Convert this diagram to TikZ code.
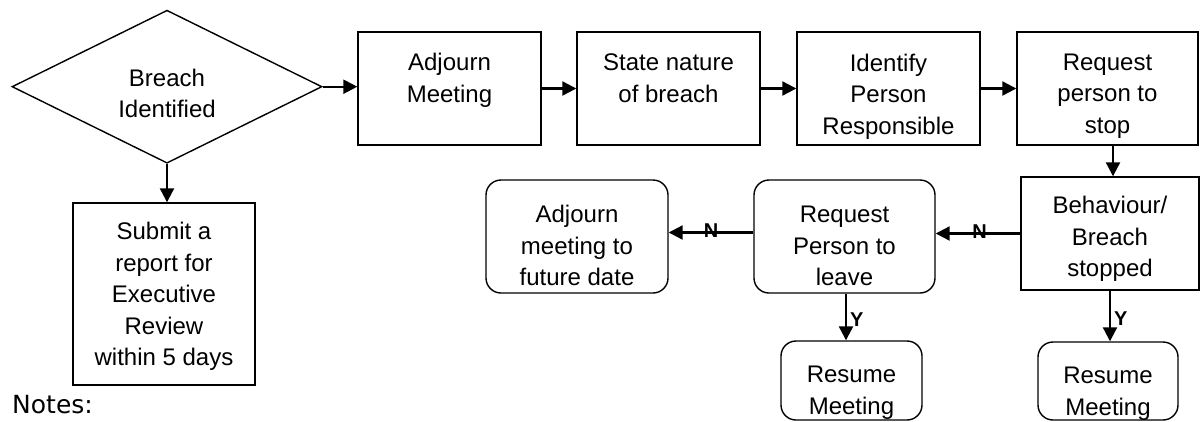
\documentclass[tikz,border=0pt]{standalone}
\usepackage{fontspec}
\setmainfont{Liberation Sans}
\newfontfamily\notesfont{DejaVu Sans}
\usetikzlibrary{arrows.meta,shapes.geometric,calc}
\begin{document}
\begin{tikzpicture}[x=1pt,y=-1pt,
  boxa/.style={draw, line width=1.4pt, inner sep=0pt},
  rboxa/.style={boxa, rounded corners=15pt},
  txt/.style={font=\fontsize{24}{31.5}\selectfont, align=center, anchor=north, inner sep=0pt},
  arr/.style={line width=2.2pt, -{Triangle[length=14pt,width=14pt]}},
  lab/.style={font=\fontsize{20}{24}\bfseries\selectfont, inner sep=0pt}
]
\useasboundingbox (0,0) rectangle (1200,421);
\fill[white] (0,0) rectangle (1200,421);

% top row
\node[draw, diamond, line width=1.4pt, inner sep=0pt, minimum width=310pt, minimum height=153pt] (dia) at (167,86.7) {};
\node[txt] (diat) at ($(dia.center)+(0,-22.7)$) {\strut Breach\\Identified};

\node[boxa, minimum width=183pt, minimum height=113pt] (adj) at (449.5,88.5) {};
\node[txt] (adjt) at ($(adj.north)+(0,17)$) {\strut Adjourn\\Meeting};

\node[boxa, minimum width=183pt, minimum height=113pt] (state) at (668.5,88.5) {};
\node[txt] (statet) at ($(state.north)+(0,17)$) {\strut State nature\\of breach};

\node[boxa, minimum width=183pt, minimum height=113pt] (ident) at (888.5,88.5) {};
\node[txt] (identt) at ($(ident.north)+(0,17.5)$) {\strut Identify\\Person\\Responsible};

\node[boxa, minimum width=181pt, minimum height=113pt] (reqstop) at (1107.5,88.5) {};
\node[txt] (reqstopt) at ($(reqstop.north)+(0,16.5)$) {\strut Request\\person to\\stop};

% second row
\node[boxa, minimum width=178pt, minimum height=113pt] (behav) at (1110,233.5) {};
\node[txt] (behavt) at ($(behav.north)+(0,15)$) {\strut Behaviour/\\Breach\\stopped};

\node[rboxa, minimum width=181pt, minimum height=113pt] (reqleave) at (844.5,236.5) {};
\node[txt] (reqleavet) at ($(reqleave.north)+(0,21)$) {\strut Request\\Person to\\leave};

\node[rboxa, minimum width=182pt, minimum height=113pt] (adjfut) at (577,236.5) {};
\node[txt] (adjfutt) at ($(adjfut.north)+(0,21)$) {\strut Adjourn\\meeting to\\future date};

% bottom row
\node[rboxa, minimum width=141pt, minimum height=79pt] (res1) at (851.5,380.5) {};
\node[txt] (res1t) at ($(res1.north)+(0,20)$) {\strut Resume\\Meeting};

\node[rboxa, minimum width=140pt, minimum height=78pt] (res2) at (1108,381) {};
\node[txt] (res2t) at ($(res2.north)+(0,20)$) {\strut Resume\\Meeting};

\node[boxa, minimum width=182pt, minimum height=182pt] (submit) at (164,294) {};
\node[txt] (submitt) at ($(submit.north)+(0,15)$) {\strut Submit a\\report for\\Executive\\Review\\within 5 days};

\node[anchor=base west, inner sep=0pt, font=\notesfont\fontsize{25}{30}\selectfont] (notes) at (12,413) {Notes:};

% connector end points
\coordinate (rlw) at ($(reqleave.west)+(0,-4)$);
\coordinate (rls) at ($(reqleave.south)+(1.5,0)$);
\coordinate (rss) at ($(reqstop.south)+(5.5,0)$);

% connectors
\draw[arr] (dia.east) -- (dia.east -| adj.west);
\draw[arr] (adj.east) -- (state.west);
\draw[arr] (state.east) -- (ident.west);
\draw[arr] (ident.east) -- (reqstop.west);
\draw[arr] (rss) -- (rss |- behav.north);
\draw[arr] (behav.west) -- node[lab, pos=0.48, yshift=2pt] {N} (behav.west -| reqleave.east);
\draw[arr] (rlw) -- node[lab, pos=0.5, yshift=2pt] {N} (rlw -| adjfut.east);
\draw[arr] (rls) -- node[lab, pos=0.55, anchor=west, xshift=3pt] {Y} (rls |- res1.north);
\draw[arr] (behav.south) -- node[lab, pos=0.55, anchor=west, xshift=3pt] {Y} (behav.south |- res2.north);
\draw[arr] (dia.south) -- (dia.south |- submit.north);
\end{tikzpicture}
\end{document}
